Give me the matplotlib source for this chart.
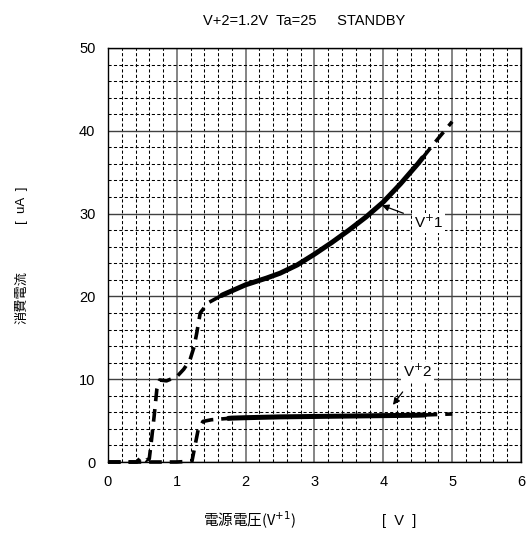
import numpy as np
import matplotlib.pyplot as plt
from matplotlib.ticker import MultipleLocator

plt.rcParams['font.family'] = ['Liberation Sans', 'Noto Sans CJK JP', 'DejaVu Sans']

# V+1 supply current curve
v1_x = [0.0, 0.3, 0.42, 0.48, 0.55, 0.60, 0.63, 0.67, 0.71, 0.75, 0.85, 1.0, 1.1, 1.19,
        1.25, 1.29, 1.34, 1.45, 1.67, 2.0, 2.3, 2.5, 2.75, 3.0, 3.25, 3.5, 3.75, 4.0,
        4.25, 4.5, 4.75, 5.0]
v1_y = [0.0, 0.0, 0.0, 0.6, 0.2, 0.4, 2.5, 5.5, 8.8, 9.9, 9.8, 10.3, 11.2, 12.3,
        13.9, 15.6, 18.0, 19.2, 20.2, 21.4, 22.2, 22.8, 23.8, 25.1, 26.5, 28.0, 29.6, 31.4,
        33.6, 36.0, 38.6, 41.1]
v1_solid = (1.65, 4.57)

# V+2 supply current curve
v2_x = [0.0, 0.5, 1.0, 1.22, 1.26, 1.31, 1.38, 1.5, 1.8, 2.0, 2.5, 3.0, 3.5, 4.0, 4.5, 5.0]
v2_y = [0.0, 0.0, 0.0, 0.1, 1.8, 3.9, 4.9, 5.1, 5.3, 5.35, 5.45, 5.5, 5.55, 5.6, 5.65, 5.8]
v2_solid = (1.75, 4.6)


def split(x, y, lo, hi):
    # cut a curve into dashed / solid / dashed pieces
    x = np.asarray(x)
    y = np.asarray(y)
    parts = []
    for a, b in [(x[0], lo), (lo, hi), (hi, x[-1])]:
        inner = (x > a) & (x < b)
        xs = np.concatenate([[a], x[inner], [b]])
        ys = np.concatenate([[np.interp(a, x, y)], y[inner], [np.interp(b, x, y)]])
        parts.append((xs, ys))
    return parts


fig = plt.figure(figsize=(5.26, 5.33), dpi=100)
ax = fig.add_axes([0.2053, 0.1332, 0.7852, 0.7768])

ax.set_xlim(0, 6)
ax.set_ylim(0, 50)
ax.xaxis.set_major_locator(MultipleLocator(1))
ax.xaxis.set_minor_locator(MultipleLocator(0.2))
ax.yaxis.set_major_locator(MultipleLocator(10))
ax.yaxis.set_minor_locator(MultipleLocator(2))
ax.grid(which='minor', color='black', linestyle=(0, (3, 2.2)), linewidth=0.75)
ax.xaxis.grid(which='major', color='#707070', linestyle='-', linewidth=1.2)
ax.yaxis.grid(which='major', color='#404040', linestyle='-', linewidth=1.0)
ax.set_axisbelow(True)
ax.tick_params(which='both', length=0, labelsize=10.5)
ax.tick_params(axis='x', pad=9)
ax.tick_params(axis='y', pad=9)
for s in ax.spines.values():
    s.set_color('black')
    s.set_linewidth(1.0)

for xs, ys, (lo, hi) in [(v1_x, v1_y, v1_solid), (v2_x, v2_y, v2_solid)]:
    (dx1, dy1), (sx, sy), (dx2, dy2) = split(xs, ys, lo, hi)
    ax.plot(dx1, dy1, color='black', linewidth=2.6, linestyle=(0, (3.5, 2.2)),
            dash_capstyle='butt', clip_on=False, zorder=3)
    ax.plot(sx, sy, color='black', linewidth=3.6, solid_capstyle='round', zorder=3)
    ax.plot(dx2, dy2, color='black', linewidth=2.6, linestyle=(0, (3.5, 2.2)),
            dash_capstyle='butt', zorder=3)

bbox = dict(boxstyle='square,pad=0.1', facecolor='white', edgecolor='none')
ax.annotate('V$^{+}$1', xy=(3.98, 31.0), xytext=(4.66, 28.9), fontsize=11,
            ha='center', va='center', bbox=bbox,
            arrowprops=dict(arrowstyle='-|>', color='black', lw=0.9,
                            mutation_scale=10, shrinkA=7, shrinkB=0))
ax.annotate('V$^{+}$2', xy=(4.14, 6.9), xytext=(4.5, 10.9), fontsize=11,
            ha='center', va='center', bbox=bbox,
            arrowprops=dict(arrowstyle='-|>', color='black', lw=0.9,
                            mutation_scale=10, shrinkA=9, shrinkB=0))

fig.text(0.578, 0.961, 'V+2=1.2V  Ta=25     STANDBY', ha='center', va='center',
         fontsize=10.5, family=['Liberation Sans Narrow', 'Liberation Sans'])
fig.text(0.042, 0.442, '消費電流', rotation=90, ha='center', va='center', fontsize=9.5,
         family=['Noto Sans CJK JP'])
fig.text(0.042, 0.615, '[  uA  ]', rotation=90, ha='center', va='center', fontsize=9.5)
fig.text(0.475, 0.023, '電源電圧(V$^{+1}$)', ha='center', va='center', fontsize=10.5,
         family=['Noto Sans CJK JP', 'Liberation Sans'])
fig.text(0.759, 0.023, '[  V  ]', ha='center', va='center', fontsize=10.5)

fig.savefig('out.png', dpi=100)
